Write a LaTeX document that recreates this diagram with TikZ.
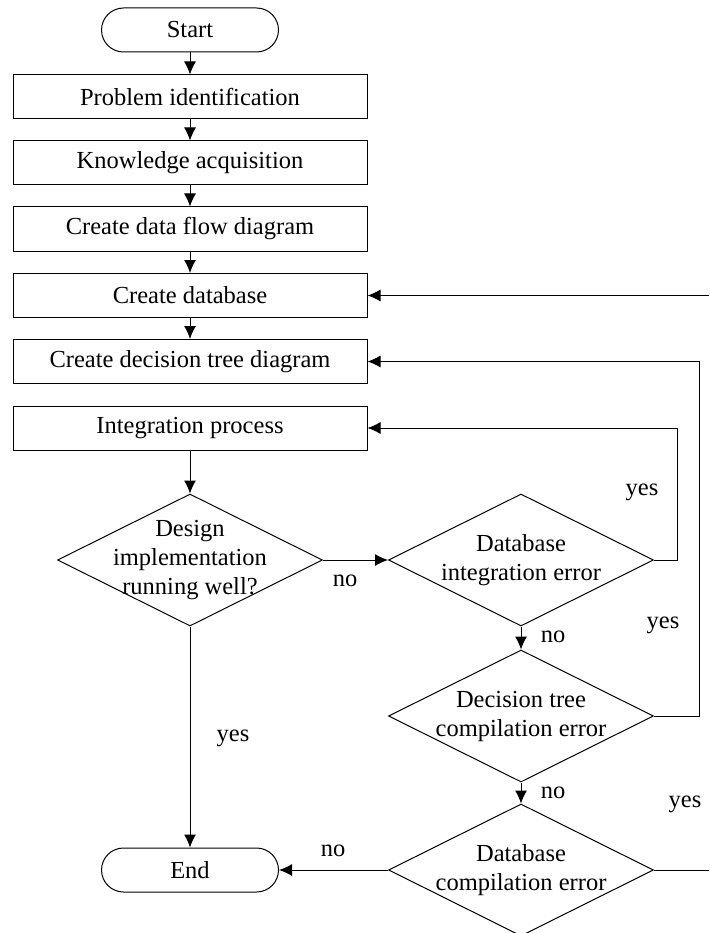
\documentclass[tikz,border=0pt]{standalone}
\usepackage{fontspec}
\setmainfont{Liberation Serif}
\usepackage{tikz}
\usetikzlibrary{shapes,arrows,arrows.meta,calc}
\tikzstyle{every node}=[font=\fontsize{24.5}{29}\selectfont]
\tikzstyle{every path}=[line width=1pt]
\tikzstyle{process}=[draw,rectangle,minimum width=354pt,minimum height=44pt,inner sep=0pt]
\tikzstyle{terminal}=[draw,rectangle,rounded corners=22pt,minimum width=177pt,minimum height=44pt,inner sep=0pt]
\tikzstyle{decision}=[draw,diamond,minimum width=265pt,minimum height=132pt,inner sep=0pt]
\tikzstyle{flow}=[-{Latex[length=13pt,width=12pt]}]

\begin{document}
\begin{tikzpicture}[x=1pt,y=-1pt]
\useasboundingbox (0,0) rectangle (709,933);

\node [terminal] (start) at (190,30) {Start};
\node [process] (ident) at (190,97) {Problem identification};
\node [process] (acq) at (190,163) {Knowledge acquisition};
\node [process] (dfd) at (190,229) {Create data flow diagram};
\node [process] (db) at (190,295.5) {Create database};
\node [process] (dtree) at (190,361.5) {Create decision tree diagram};
\node [process] (integ) at (190,428) {Integration process};

\node [decision,label={[align=center]center:{Design\\implementation\\running well?}}] (run) at (190,560) {};
\node [decision,label={[align=center]center:{Database\\integration error}}] (dbint) at (521,560) {};
\node [decision,label={[align=center]center:{Decision tree\\compilation error}}] (dtcomp) at (521,716) {};
\node [decision,label={[align=center]center:{Database\\compilation error}}] (dbcomp) at (521,870) {};
\node [terminal] (end) at (190,870) {End};

\coordinate (rimB) at (709,870);
\coordinate (rimT) at (db.east -| rimB);

\draw [flow] (start) -- (ident);
\draw [flow] (ident) -- (acq);
\draw [flow] (acq) -- (dfd);
\draw [flow] (dfd) -- (db);
\draw [flow] (db) -- (dtree);
\draw [flow] (integ) -- (run);

\draw [flow] (run.east) -- (dbint.west);
\draw [flow] (dbint.east) -- ++(23,0) |- (integ.east);
\draw [flow] (dbint.south) -- (dtcomp.north);
\draw [flow] (dtcomp.east) -- ++(45,0) |- (dtree.east);
\draw [flow] (dtcomp.south) -- (dbcomp.north);
\draw (dbcomp.east) -- (rimB);
\draw [flow] (rimT) -- (db.east);
\draw [flow] (dbcomp.west) -- (end.east);
\draw [flow] (run.south) -- (end.north);

\node (no1) at (345,581) {no};
\node (yes1) at (642,492) {yes};
\node (no2) at (553,637) {no};
\node (yes2) at (663,625) {yes};
\node (no3) at (553,793) {no};
\node (yes3) at (685,804) {yes};
\node (no4) at (333,851) {no};
\node (yes4) at (233,738) {yes};
\end{tikzpicture}
\end{document}
